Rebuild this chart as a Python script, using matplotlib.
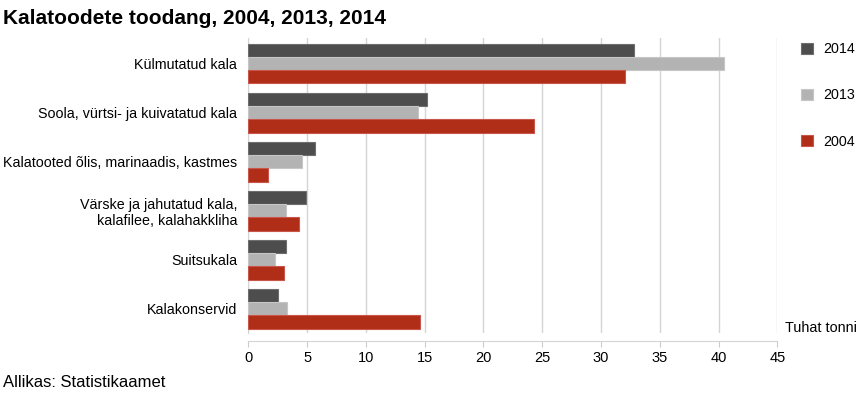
import numpy as np
import matplotlib
matplotlib.use('Agg')
import matplotlib.pyplot as plt

plt.rcParams['font.family'] = ['Liberation Sans', 'DejaVu Sans']

# Data (thousand tonnes)
categories = [
    'Külmutatud kala',
    'Soola, vürtsi- ja kuivatatud kala',
    'Kalatooted õlis, marinaadis, kastmes',
    'Värske ja jahutatud kala,\nkalafilee, kalahakkliha',
    'Suitsukala',
    'Kalakonservid',
]
years = ['2014', '2013', '2004']
v2014 = [32.8, 15.2, 5.7, 4.9, 3.2, 2.5]
v2013 = [40.5, 14.4, 4.6, 3.2, 2.3, 3.3]
v2004 = [32.0, 24.3, 1.7, 4.3, 3.0, 14.6]
colors = ['#4d4d4d', '#b3b3b3', '#b02d17']
edges = ['#6e6e6e', '#c6c6c6', '#c8564a']

fig = plt.figure(figsize=(8.59, 3.96), dpi=100)
ax = fig.add_axes([0.289, 0.159, 0.616, 0.745])

y = np.arange(len(categories))
h = 0.272
for k, (vals, c, ec) in enumerate(zip([v2014, v2013, v2004], colors, edges)):
    ax.barh(y + (k - 1) * h, vals, height=h, color=c, edgecolor=ec,
            linewidth=0.8, label=years[k], zorder=3)

ax.set_ylim(len(categories) - 0.5, -0.52)
ax.set_xlim(0, 45)
ax.set_xticks(np.arange(0, 46, 5))
ax.set_yticks(y)
ax.set_yticklabels(categories, fontsize=10.3, linespacing=1.2)
ax.tick_params(axis='y', length=0, pad=8)
ax.tick_params(axis='x', length=4, color='#cccccc', labelsize=10.5, pad=3)

ax.grid(axis='x', color='#d4d4d4', linewidth=1, zorder=0)
for s in ['top', 'right']:
    ax.spines[s].set_visible(False)
ax.spines['left'].set_color('#d4d4d4')
ax.spines['bottom'].set_color('#d4d4d4')
ax.spines['bottom'].set_position(('outward', 6))

ax.legend(loc='upper left', bbox_to_anchor=(1.033, 1.005), frameon=False,
          handlelength=0.85, handleheight=0.85, handletextpad=0.75,
          labelspacing=2.25, fontsize=10.3, borderaxespad=0)

fig.text(0.004, 0.978, 'Kalatoodete toodang, 2004, 2013, 2014',
         fontsize=15, fontweight='bold', va='top', ha='left')
fig.text(0.998, 0.172, 'Tuhat tonni', fontsize=10.4, ha='right', va='center')
fig.text(0.004, 0.033, 'Allikas: Statistikaamet', fontsize=12, ha='left', va='center')

fig.savefig('out.png', dpi=100)
